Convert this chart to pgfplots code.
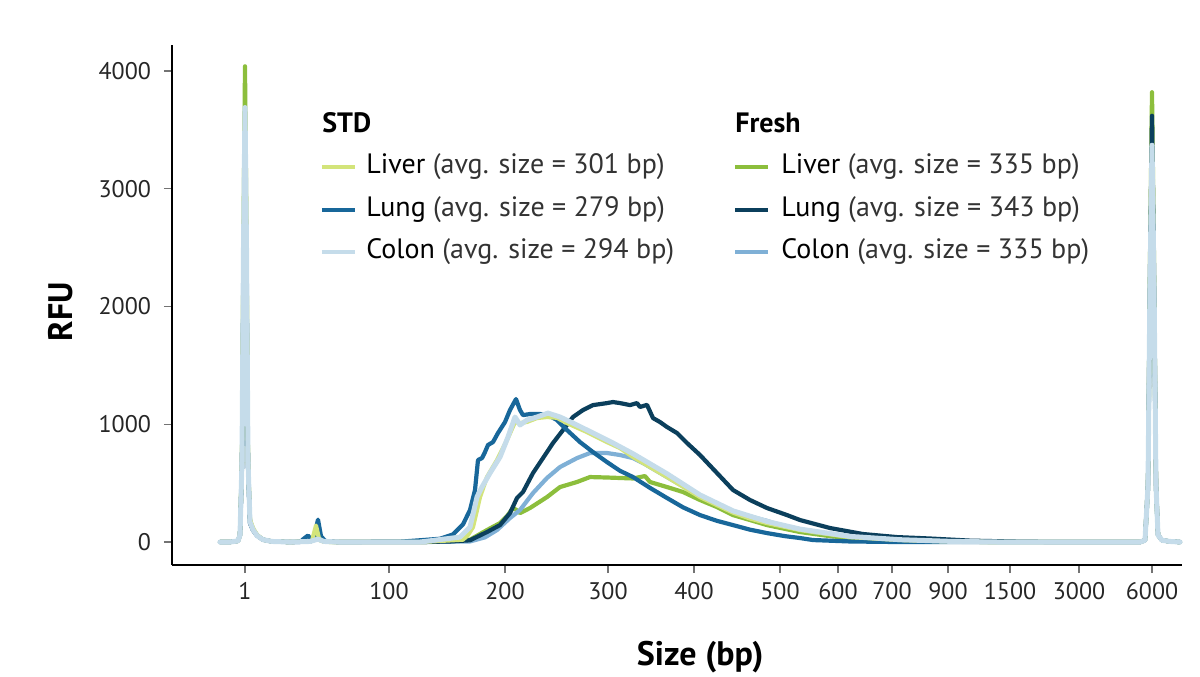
\documentclass[border=0pt]{standalone}
\usepackage{fontspec}
\setmainfont{PT Sans}
\usepackage{pgfplots}
\pgfplotsset{compat=1.18}

\definecolor{stdliver}{HTML}{D3E47A}
\definecolor{stdlung}{HTML}{18679A}
\definecolor{stdcolon}{HTML}{C5DCEA}
\definecolor{frliver}{HTML}{8CBE3C}
\definecolor{frlung}{HTML}{0B3F5C}
\definecolor{frcolon}{HTML}{7FB0D6}

% x runs in the figure's own (non-linear) size scale; ticks carry the bp labels
\begin{document}
\begin{tikzpicture}
\path[use as bounding box] (-86pt,-55.5pt) rectangle (514pt,282.5pt);
\begin{axis}[
  at={(0,0)}, anchor=south west,
  scale only axis, width=505pt, height=260pt,
  xmin=172, xmax=1182, ymin=-195, ymax=4221,
  axis x line*=bottom, axis y line*=left,
  axis line style={line width=1.3pt, black},
  xtick={245,389,505,608,694,780,838,892,948,1010,1079,1152},
  xticklabels={1,100,200,300,400,500,600,700,900,1500,3000,6000},
  ytick={0,1000,2000,3000,4000},
  scaled y ticks=false,
  /pgf/number format/1000 sep={},
  /pgf/number format/assume math mode=true,
  tick align=outside, major tick length=4pt,
  tick style={black!55, line width=0.6pt},
  tick label style={font=\fontsize{12}{12}\selectfont, text=black!85},
  yticklabel style={xshift=-3pt},
  xticklabel style={yshift=-1pt},
  xlabel={\textbf{Size (bp)}},
  ylabel={\textbf{RFU}},
  label style={font=\fontsize{17}{17}\selectfont},
  xlabel style={at={(axis description cs:0.523,-0.177)}, anchor=center},
  ylabel style={at={(axis description cs:-0.110,0.487)}, anchor=center},
  every axis plot/.append style={line width=2.1pt, line join=round, line cap=round},
  clip=false,
]
% Fresh liver
\addplot[frliver] coordinates {
(220,0) (230,0) (238,10) (240,60) (242,700) (243.5,2600) (245,4040) (246.5,2600)
(248,700) (250,180) (253,110) (257,60) (263,20) (272,5) (290,0) (305,5) (312,15)
(316,40) (320,15) (330,0) (380,0) (420,0) (450,5) (470,20) (487,102) (500,161)
(507,220) (513,289) (517,270) (520,246) (530,289) (547,382) (560,467) (577,510)
(590,552) (607,548) (620,544) (633,540) (640,552) (645,560) (650,510) (667,467)
(683,425) (700,357) (717,297) (733,229) (750,187) (767,144) (800,85) (830,50)
(860,25) (900,10) (950,3) (1000,0) (1140,0) (1145,15) (1148,500) (1150,2400)
(1152,3820) (1154,2400) (1156,500) (1158,60) (1162,15) (1170,5) (1180,0)
};
% Fresh colon
\addplot[frcolon] coordinates {
(220,0) (230,0) (238,10) (240,60) (242,650) (243.5,2300) (245,3300) (246.5,2300)
(248,650) (250,160) (253,100) (257,55) (263,20) (272,5) (290,0) (310,5) (318,30)
(324,5) (340,0) (420,0) (470,5) (485,40) (497,102) (510,204) (520,272) (533,416)
(547,544) (560,637) (577,713) (590,756) (607,756) (620,739) (633,713) (643,671)
(667,552) (700,390) (733,255) (767,180) (780,144) (813,85) (847,51) (880,34)
(920,15) (960,4) (1000,0) (1140,0) (1145,15) (1148,450) (1150,2200) (1152,3350)
(1154,2200) (1156,450) (1158,60) (1162,15) (1170,5) (1180,0)
};
% Fresh lung
\addplot[frlung] coordinates {
(220,0) (230,0) (238,10) (240,60) (242,650) (243.5,2300) (245,3400) (246.5,2300)
(248,650) (250,160) (253,100) (257,55) (263,20) (272,5) (290,0) (310,5) (318,30)
(324,5) (340,0) (420,0) (450,5) (470,15) (487,85) (500,144) (510,246) (517,374)
(523,425) (533,586) (543,713) (553,841) (563,951) (573,1062) (583,1121) (593,1163)
(607,1180) (613,1189) (620,1180) (623,1175) (630,1163) (637,1180) (640,1147)
(647,1165) (653,1053) (660,1019) (667,977) (677,926) (687,841) (700,739) (717,586)
(733,442) (750,357) (767,289) (787,229) (800,187) (830,119) (863,68) (897,42)
(930,30) (970,12) (1020,3) (1060,0) (1140,0) (1145,15) (1148,500) (1150,2300)
(1152,3620) (1154,2300) (1156,500) (1158,60) (1162,15) (1170,5) (1180,0)
};
% STD lung
\addplot[stdlung] coordinates {
(220,0) (230,0) (238,10) (240,60) (242,650) (243.5,2300) (245,3300) (246.5,2300)
(248,650) (250,170) (253,105) (257,55) (263,20) (272,5) (290,0) (300,0) (304,30)
(308,55) (311,25) (314,40) (318,190) (321,50) (325,10) (335,0) (400,3) (420,15)
(440,28) (453,65) (463,150) (470,272) (475,442) (478,696) (482,713) (485,764)
(488,824) (493,849) (498,926) (505,1019) (510,1121) (516,1214) (520,1121)
(523,1078) (530,1087) (540,1087) (548,1078) (557,1036) (567,951) (580,849)
(593,764) (607,679) (620,605) (633,552) (650,460) (667,374) (683,295) (700,229)
(717,180) (733,144) (750,105) (767,76) (785,50) (800,34) (813,17) (850,5) (900,0)
(1140,0) (1145,15) (1148,450) (1150,2100) (1152,3200) (1154,2100) (1156,450)
(1158,60) (1162,15) (1170,5) (1180,0)
};
% STD liver
\addplot[stdliver] coordinates {
(220,0) (230,0) (238,10) (240,60) (242,680) (243.5,2500) (245,3650) (246.5,2500)
(248,680) (250,190) (253,120) (257,60) (263,20) (272,5) (290,0) (308,5) (312,10)
(316,140) (319,30) (323,5) (335,0) (420,0) (463,20) (468,60) (473,127) (477,272)
(480,382) (487,552) (497,696) (507,866) (515,1019) (520,1010) (527,1020)
(537,1053) (547,1062) (557,1055) (567,1010) (587,934) (607,849) (620,798)
(633,722) (667,552) (700,382) (733,250) (750,200) (767,161) (800,102) (850,42)
(900,17) (950,5) (1000,0) (1140,0) (1145,15) (1148,450) (1150,2150) (1152,3300)
(1154,2150) (1156,450) (1158,60) (1162,15) (1170,5) (1180,0)
};
% STD colon
\addplot[stdcolon, line width=2.5pt] coordinates {
(220,0) (230,0) (238,10) (240,60) (242,680) (243.5,2500) (245,3690) (246.5,2500)
(248,680) (250,170) (253,105) (257,55) (263,20) (272,5) (290,0) (310,5) (318,25)
(324,5) (340,0) (420,0) (460,42) (470,127) (477,382) (482,467) (490,586) (500,722)
(508,892) (515,1062) (520,994) (527,1036) (537,1062) (548,1095) (560,1062)
(573,1010) (593,926) (613,841) (633,750) (667,580) (700,400) (733,265) (767,175)
(800,110) (850,48) (900,20) (950,6) (1000,0) (1140,0) (1145,15) (1148,480)
(1150,2200) (1152,3370) (1154,2200) (1156,480) (1158,60) (1162,15) (1170,5) (1180,0)
};

% legend, drawn as two captioned columns
\begin{scope}[every node/.style={anchor=west, inner sep=0pt, font=\fontsize{14}{14}\selectfont}]
\node at (axis cs:322,3558) {\textbf{STD}};
\node at (axis cs:735,3558) {\textbf{Fresh}};
\draw[stdliver, line width=2pt] (axis cs:322,3185) -- (axis cs:355,3185);
\draw[stdlung, line width=2pt] (axis cs:322,2820) -- (axis cs:355,2820);
\draw[stdcolon, line width=2pt] (axis cs:322,2463) -- (axis cs:355,2463);
\draw[frliver, line width=2pt] (axis cs:735,3185) -- (axis cs:768,3185);
\draw[frlung, line width=2pt] (axis cs:735,2820) -- (axis cs:768,2820);
\draw[frcolon, line width=2pt] (axis cs:735,2463) -- (axis cs:768,2463);
\node at (axis cs:366,3185) {Liver {\color{black!80}(avg. size = 301 bp)}};
\node at (axis cs:366,2820) {Lung {\color{black!80}(avg. size = 279 bp)}};
\node at (axis cs:366,2463) {Colon {\color{black!80}(avg. size = 294 bp)}};
\node at (axis cs:781,3185) {Liver {\color{black!80}(avg. size = 335 bp)}};
\node at (axis cs:781,2820) {Lung {\color{black!80}(avg. size = 343 bp)}};
\node at (axis cs:781,2463) {Colon {\color{black!80}(avg. size = 335 bp)}};
\end{scope}
\end{axis}
\end{tikzpicture}
\end{document}
